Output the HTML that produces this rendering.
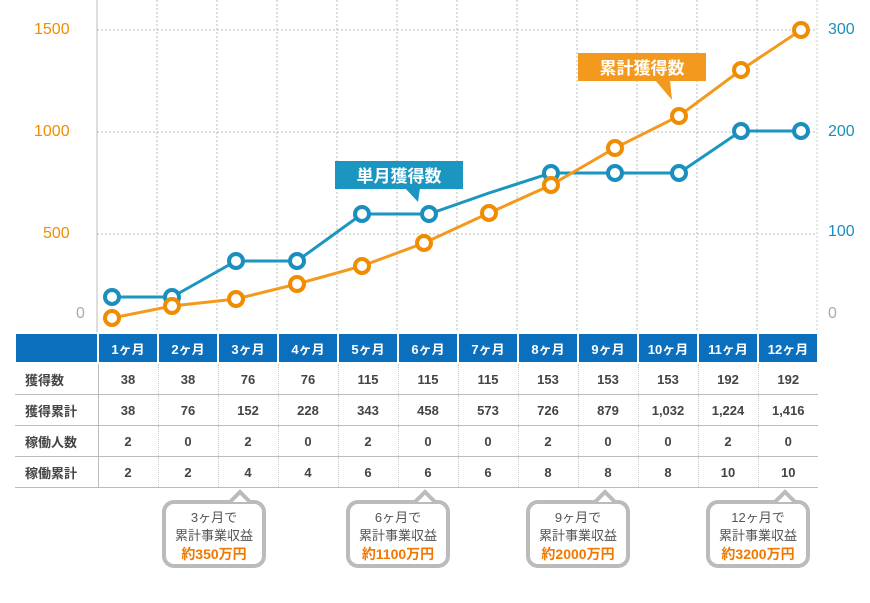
<!DOCTYPE html><html><head><meta charset="utf-8"><style>
body{margin:0;width:870px;height:603px;background:#fff;font-family:"Liberation Sans","Noto Sans CJK JP",sans-serif;position:relative;overflow:hidden}
.ax{position:absolute;font-size:16px;color:#f08c00}
.ax.r{color:#1a8fbf}
table{position:absolute;left:14px;top:332px;border-collapse:collapse;font-size:13px;font-weight:bold;color:#444;table-layout:fixed;width:803px}
td{height:30px;text-align:center;border-bottom:1px solid #bbb;border-left:1px dotted #ccc;padding:0;overflow:hidden;white-space:nowrap}
td:first-child{text-align:left;padding-left:10px;border-left:none;border-right:1px solid #bbb}
tr.h td{background:#0a6fbd;color:#fff;border:2px solid #fff;height:28px}
.b{position:absolute;width:104px;height:68px;border:4px solid #bbb;border-radius:12px;background:#fff;text-align:center;font-size:13px;color:#555;line-height:18px;padding-top:5px;box-sizing:border-box}
.b i{font-style:normal;color:#f07800;font-weight:bold;font-size:14px}
</style></head><body>
<svg width="870" height="340" style="position:absolute;left:0;top:0">
<g stroke="#bbb" stroke-dasharray="2,2" stroke-width="1">
<line x1="97" y1="30" x2="817" y2="30"/><line x1="97" y1="132" x2="817" y2="132"/><line x1="97" y1="234" x2="817" y2="234"/>
<line x1="157" y1="0" x2="157" y2="332"/><line x1="217" y1="0" x2="217" y2="332"/><line x1="277" y1="0" x2="277" y2="332"/><line x1="337" y1="0" x2="337" y2="332"/><line x1="397" y1="0" x2="397" y2="332"/><line x1="457" y1="0" x2="457" y2="332"/><line x1="517" y1="0" x2="517" y2="332"/><line x1="577" y1="0" x2="577" y2="332"/><line x1="637" y1="0" x2="637" y2="332"/><line x1="697" y1="0" x2="697" y2="332"/><line x1="757" y1="0" x2="757" y2="332"/>
</g>
<line x1="97" y1="0" x2="97" y2="332" stroke="#bbb"/><line x1="817" y1="0" x2="817" y2="332" stroke="#ccc" stroke-dasharray="2,2"/>
<g fill="none" stroke-width="3">
<polyline stroke="#1a96c0" points="112,297 172,297 236,261 297,261 362,214 429,214 489,193 551,173 615,173 679,173 741,131 801,131"/>
<polyline stroke="#f39a1e" points="112,318 172,306 236,299 297,284 362,266 424,243 489,213 551,185 615,148 679,116 741,70 801,30"/>
</g>
<g fill="#fff" stroke="#1a8fbf" stroke-width="4">
<circle cx="112" cy="297" r="7"/><circle cx="172" cy="297" r="7"/><circle cx="236" cy="261" r="7"/><circle cx="297" cy="261" r="7"/><circle cx="362" cy="214" r="7"/><circle cx="429" cy="214" r="7"/><circle cx="551" cy="173" r="7"/><circle cx="615" cy="173" r="7"/><circle cx="679" cy="173" r="7"/><circle cx="741" cy="131" r="7"/><circle cx="801" cy="131" r="7"/>
</g>
<g fill="#fff" stroke="#f08c00" stroke-width="4">
<circle cx="112" cy="318" r="7"/><circle cx="172" cy="306" r="7"/><circle cx="236" cy="299" r="7"/><circle cx="297" cy="284" r="7"/><circle cx="362" cy="266" r="7"/><circle cx="424" cy="243" r="7"/><circle cx="489" cy="213" r="7"/><circle cx="551" cy="185" r="7"/><circle cx="615" cy="148" r="7"/><circle cx="679" cy="116" r="7"/><circle cx="741" cy="70" r="7"/><circle cx="801" cy="30" r="7"/>
</g>
<rect x="335" y="161" width="128" height="28" fill="#1a96c0"/><polygon points="405,188 420,188 418,202" fill="#1a96c0"/>
<text x="399" y="182" fill="#fff" font-size="17" font-weight="bold" text-anchor="middle" font-family="Noto Sans CJK JP,sans-serif">単月獲得数</text>
<rect x="578" y="53" width="128" height="28" fill="#f39a1e"/><polygon points="655,80 670,80 672,100" fill="#f39a1e"/>
<text x="642" y="74" fill="#fff" font-size="17" font-weight="bold" text-anchor="middle" font-family="Noto Sans CJK JP,sans-serif">累計獲得数</text>
</svg>
<div class="ax" style="left:34px;top:21px">1500</div><div class="ax" style="left:34px;top:123px">1000</div><div class="ax" style="left:43px;top:225px">500</div><div class="ax" style="left:76px;top:305px;color:#aaa">0</div>
<div class="ax r" style="left:828px;top:21px">300</div><div class="ax r" style="left:828px;top:123px">200</div><div class="ax r" style="left:828px;top:223px">100</div><div class="ax r" style="left:828px;top:305px;color:#aaa">0</div>
<table>
<colgroup><col style="width:83px"><col style="width:60px"><col style="width:60px"><col style="width:60px"><col style="width:60px"><col style="width:60px"><col style="width:60px"><col style="width:60px"><col style="width:60px"><col style="width:60px"><col style="width:60px"><col style="width:60px"><col style="width:60px"></colgroup>
<tr class="h"><td></td><td>1ヶ月</td><td>2ヶ月</td><td>3ヶ月</td><td>4ヶ月</td><td>5ヶ月</td><td>6ヶ月</td><td>7ヶ月</td><td>8ヶ月</td><td>9ヶ月</td><td>10ヶ月</td><td>11ヶ月</td><td>12ヶ月</td></tr>
<tr><td>獲得数</td><td>38</td><td>38</td><td>76</td><td>76</td><td>115</td><td>115</td><td>115</td><td>153</td><td>153</td><td>153</td><td>192</td><td>192</td></tr>
<tr><td>獲得累計</td><td>38</td><td>76</td><td>152</td><td>228</td><td>343</td><td>458</td><td>573</td><td>726</td><td>879</td><td>1,032</td><td>1,224</td><td>1,416</td></tr>
<tr><td>稼働人数</td><td>2</td><td>0</td><td>2</td><td>0</td><td>2</td><td>0</td><td>0</td><td>2</td><td>0</td><td>0</td><td>2</td><td>0</td></tr>
<tr><td>稼働累計</td><td>2</td><td>2</td><td>4</td><td>4</td><td>6</td><td>6</td><td>6</td><td>8</td><td>8</td><td>8</td><td>10</td><td>10</td></tr>
</table>
<div class="b" style="left:162px;top:500px">3ヶ月で<br>累計事業収益<br><i>約350万円</i></div>
<div class="b" style="left:346px;top:500px">6ヶ月で<br>累計事業収益<br><i>約1100万円</i></div>
<div class="b" style="left:526px;top:500px">9ヶ月で<br>累計事業収益<br><i>約2000万円</i></div>
<div class="b" style="left:706px;top:500px">12ヶ月で<br>累計事業収益<br><i>約3200万円</i></div>
<svg width="870" height="30" style="position:absolute;left:0;top:487px">
<g fill="#fff" stroke="#bbb" stroke-width="4"><polyline points="230,15 240,5 250,15"/><polyline points="415,15 425,5 435,15"/><polyline points="595,15 605,5 615,15"/><polyline points="775,15 785,5 795,15"/></g>
</svg>
</body></html>
